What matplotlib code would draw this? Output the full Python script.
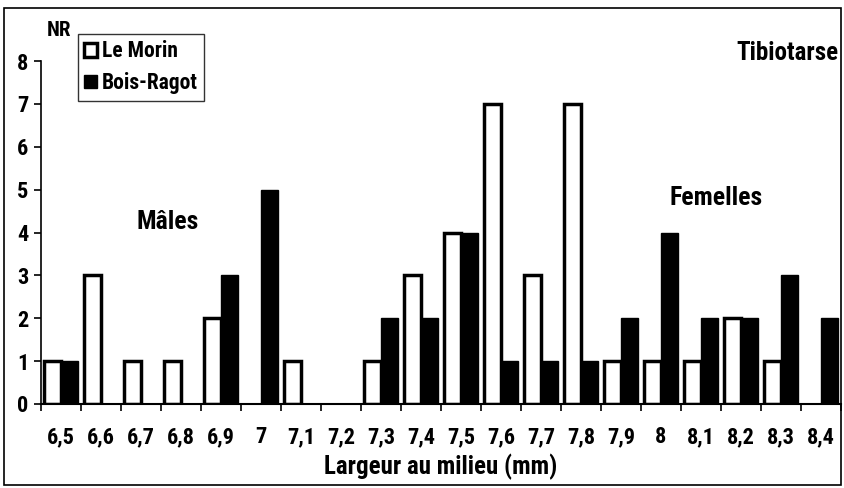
import matplotlib
matplotlib.use("Agg")
import matplotlib.pyplot as plt
from matplotlib.patches import Rectangle
import numpy as np

plt.rcParams['font.family'] = ['Roboto Condensed', 'DejaVu Sans']
plt.rcParams['font.stretch'] = 'condensed'
plt.rcParams['font.weight'] = 'bold'
plt.rcParams['axes.labelweight'] = 'bold'

categories = ["6,5", "6,6", "6,7", "6,8", "6,9", "7", "7,1", "7,2", "7,3", "7,4",
              "7,5", "7,6", "7,7", "7,8", "7,9", "8", "8,1", "8,2", "8,3", "8,4"]
le_morin = [1, 3, 1, 1, 2, 0, 1, 0, 1, 3, 4, 7, 3, 7, 1, 1, 1, 2, 1, 0]
bois_ragot = [1, 0, 0, 0, 3, 5, 0, 0, 2, 2, 4, 1, 1, 1, 2, 4, 2, 2, 3, 2]

fig = plt.figure(figsize=(8.45, 4.88), dpi=100)
ax = fig.add_axes([41 / 845, 84 / 488, 800 / 845, 343 / 488])

x = np.arange(len(categories))
w = 0.43
ax.bar(x - w / 2, le_morin, w, color='white', edgecolor='black',
       linewidth=[2.5 if v else 0 for v in le_morin], label='Le Morin', zorder=2)
ax.bar(x + w / 2, bois_ragot, w, color='black', edgecolor='black',
       linewidth=[1 if v else 0 for v in bois_ragot], label='Bois-Ragot', zorder=3)

ax.set_xlim(-0.5, len(categories) - 0.5)
ax.set_ylim(0, 8)
ax.set_yticks(range(9))
ax.set_xticks(x)
ax.set_xticklabels(categories)
ax.set_xticks(np.arange(-0.5, len(categories), 1), minor=True)
ax.tick_params(axis='x', which='major', length=0, pad=16, labelsize=16)
ax.tick_params(axis='x', which='minor', length=5, width=1.2)
ax.tick_params(axis='y', length=5, width=1.2, labelsize=16, pad=4)
for s in ['top', 'right']:
    ax.spines[s].set_visible(False)
ax.spines['left'].set_linewidth(1.2)
ax.spines['bottom'].set_linewidth(1.5)

ax.set_xlabel('Largeur au milieu (mm)', fontsize=18, labelpad=4)

fig.text(47 / 845, 1 - 30 / 488, 'NR', fontsize=15, ha='left', va='center')
fig.text(1 - 6 / 845, 1 - 53 / 488, 'Tibiotarse', fontsize=18, ha='right', va='center')
fig.text(168 / 845, 1 - 222 / 488, 'Mâles', fontsize=18.5, ha='center', va='center')
fig.text(716 / 845, 1 - 198 / 488, 'Femelles', fontsize=18.5, ha='center', va='center')

leg = ax.legend(loc='upper left', bbox_to_anchor=(78 / 845, 1 - 34 / 488),
                bbox_transform=fig.transFigure, fontsize=15.5, frameon=True,
                fancybox=False, edgecolor='black', handlelength=0.6,
                handleheight=0.6, handletextpad=0.2, borderpad=0.3,
                labelspacing=0.45, borderaxespad=0)
leg.get_frame().set_linewidth(1)

fig.patches.append(Rectangle((4 / 845, 3 / 488), 837 / 845, 477 / 488,
                             transform=fig.transFigure, fill=False,
                             edgecolor='black', linewidth=1.2))

fig.savefig('out.png', dpi=100)
